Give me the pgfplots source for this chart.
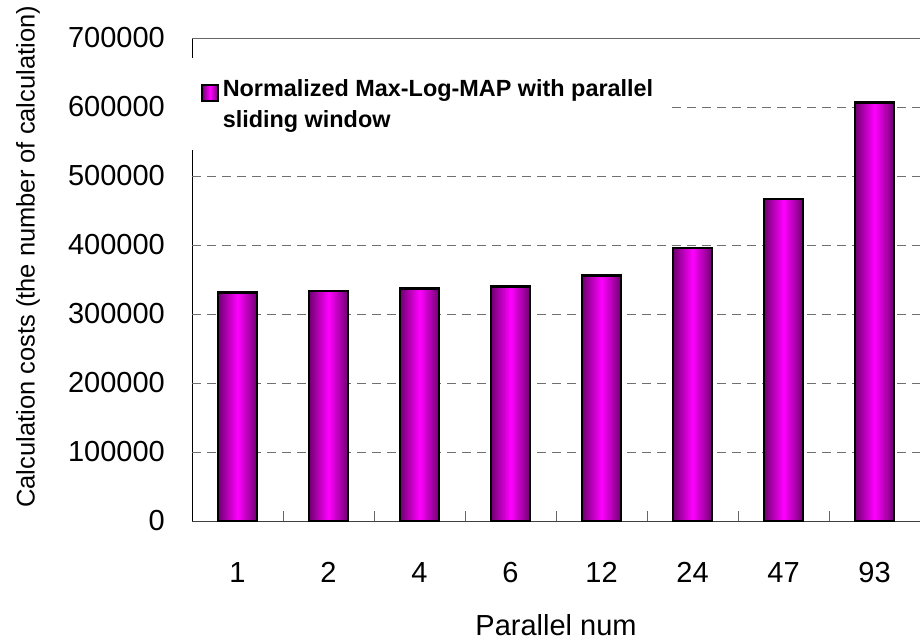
\documentclass[border=0pt]{standalone}
\usepackage{pgfplots}
\pgfplotsset{compat=1.18}
\usepackage{fontspec}
\setmainfont{Liberation Sans}
\definecolor{bardark}{HTML}{700070}
\definecolor{barmid}{HTML}{FF00FF}
\definecolor{gridc}{HTML}{707070}
\pgfplotsset{mybar/.style={ybar, bar width=39pt, bar shift=0pt, draw=black, line width=2.6pt,
  left color=bardark, right color=bardark, middle color=barmid}}
\begin{document}
\begin{tikzpicture}
\begin{axis}[
  name=main,
  scale only axis,
  width=728pt, height=483pt,
  xmin=-0.5, xmax=7.5,
  ymin=0, ymax=700000,
  axis x line*=bottom,
  axis y line*=left,
  x axis line style={draw=black!75, line width=0.9pt},
  y axis line style={draw=black, line width=0.9pt},
  xtick={0,...,7},
  xticklabels={1,2,4,6,12,24,47,93},
  major x tick style={draw=none},
  minor xtick={0.5,1.5,...,6.5},
  minor x tick style={draw=black!60, line width=0.8pt},
  minor tick length=10pt,
  ytick={0,100000,...,700000},
  major tick length=6pt,
  tick align=inside,
  y tick style={draw=black, line width=0.8pt},
  scaled y ticks=false,
  yticklabel style={/pgf/number format/fixed, /pgf/number format/1000 sep={}, anchor=east, inner sep=0pt, xshift=-27pt},
  /pgf/number format/assume math mode=true,
  ticklabel style={font=\fontsize{29}{34}\selectfont},
  xticklabel style={anchor=north, inner sep=0pt, yshift=-41pt},
  xlabel={Parallel num},
  ylabel={Calculation costs (the number of calculation)},
  every axis x label/.style={at={(axis description cs:0.5,0)}, anchor=north, inner sep=0pt, yshift=-93pt, font=\fontsize{29}{34}\selectfont},
  every axis y label/.style={at={(axis description cs:0,0.547)}, rotate=90, anchor=center, inner sep=0pt, yshift=164pt, font=\fontsize{25.5}{30}\selectfont},
  legend style={at={(axis description cs:0,1)}, anchor=north west, xshift=-6pt, yshift=-20pt, draw=none, fill=white, inner xsep=15pt, inner ysep=19pt, font=\bfseries\fontsize{23.4}{31}\selectfont, cells={align=left, anchor=west}},
  legend image code/.code={\draw[fill=barmid, draw=black, line width=1.6pt] (0pt,3pt) rectangle (16pt,19pt);},
  clip=false,
]
\pgfplotsinvokeforeach{100000,200000,300000,400000,500000,600000}{
  \draw[gridc, line width=0.9pt, dash pattern=on 9pt off 6pt] (axis cs:-0.5,#1) -- (axis cs:7.5,#1);
}
\draw[black!60, line width=0.9pt] (rel axis cs:0,1) -- (rel axis cs:1,1);
\addplot[mybar] coordinates {(0,331500)};
\addlegendentry{\hspace{2pt}Normalized Max-Log-MAP with parallel\\\hspace{2pt}sliding window}
\addplot[mybar, forget plot] coordinates {(1,333500)};
\addplot[mybar, forget plot] coordinates {(2,337000)};
\addplot[mybar, forget plot] coordinates {(3,339500)};
\addplot[mybar, forget plot] coordinates {(4,356000)};
\addplot[mybar, forget plot] coordinates {(5,395500)};
\addplot[mybar, forget plot] coordinates {(6,466500)};
\addplot[mybar, forget plot] coordinates {(7,606500)};
\end{axis}
\pgfresetboundingbox
\path[use as bounding box] ([shift={(-192pt,-122pt)}]main.south west) rectangle ([shift={(0pt,38pt)}]main.north east);
\end{tikzpicture}
\end{document}
